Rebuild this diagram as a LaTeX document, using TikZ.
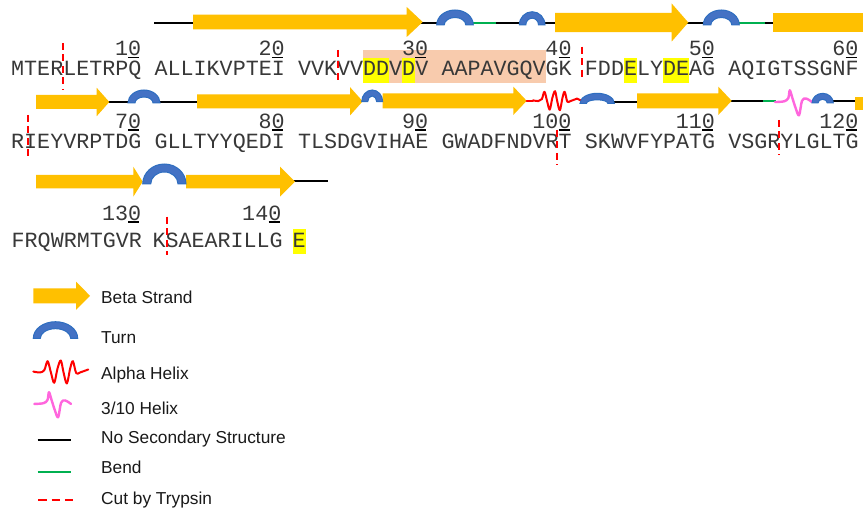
\documentclass[tikz,border=0pt]{standalone}
\usepackage{fontspec}
\setmainfont{Liberation Sans}
\newfontfamily\seqfont{Liberation Mono}

\definecolor{gold}{HTML}{FFC000}
\definecolor{turnblue}{HTML}{4472C4}
\definecolor{turnedge}{HTML}{2E6EC0}
\definecolor{bendgreen}{HTML}{00B050}
\definecolor{helixred}{HTML}{FF0000}
\definecolor{helixpink}{HTML}{FF66DD}
\definecolor{peach}{HTML}{F8CBAD}
\definecolor{hiyellow}{HTML}{FFFF00}
\definecolor{seqgrey}{HTML}{383838}

\tikzset{
  strand/.style={fill=gold, draw=none},
  turnshape/.style={fill=turnblue, draw=turnedge, line width=1pt},
  coil/.style={draw=black, line width=2pt},
  bendline/.style={draw=bendgreen, line width=2pt},
  ahelix/.style={draw=helixred, line width=2pt, line join=round, line cap=round},
  thelix/.style={draw=helixpink, line width=2.4pt, line join=round, line cap=round},
  cutline/.style={draw=red, line width=1.8pt, dash pattern=on 7pt off 4.5pt},
  seq/.style={font=\seqfont\fontsize{21.7}{24}\selectfont, text=seqgrey, inner sep=0pt, anchor=base west},
  resnum/.style={font=\seqfont\fontsize{21.7}{24}\selectfont, text=seqgrey, inner sep=0pt, anchor=base east},
  numbar/.style={draw=black, line width=1.3pt},
  legendtext/.style={font=\fontsize{17.3}{20}\selectfont, text=black!90, inner sep=0pt, anchor=base west},
  alphapic/.pic={\draw[ahelix] plot[smooth, tension=0.55] coordinates {(0,0.48) (0.12,0.52) (0.2,0.42) (0.26,0.03) (0.32,0.52) (0.38,0.97) (0.44,0.35) (0.5,0) (0.55,0.52) (0.61,1) (0.67,0.35) (0.72,0.03) (0.78,0.55) (0.85,0.52) (1,0.39)};},
  threetenpic/.pic={\draw[thelix] plot[smooth, tension=0.55] coordinates {(0,0.47) (0.25,0.44) (0.36,0.31) (0.4,0) (0.47,0.31) (0.56,0.72) (0.65,1) (0.73,0.42) (0.84,0.33) (1,0.47)};},
}

% beta strand arrow: start, head base, tip, centre y, body half height, head half height
\newcommand\strandarrow[6]{%
  \fill[strand] (#1,#4-#5) -- (#2,#4-#5) -- (#2,#4-#6) -- (#3,#4) -- (#2,#4+#6) -- (#2,#4+#5) -- (#1,#4+#5) -- cycle;}
% turn: left, right, top, bottom, band thickness
\newcommand\turnat[5]{%
  \pgfmathsetmacro\tA{(#2-#1)/2}%
  \pgfmathsetmacro\tM{(#1+#2)/2}%
  \pgfmathsetmacro\tH{#4-#3}%
  \pgfmathsetmacro\tIA{\tA-#5}%
  \pgfmathsetmacro\tIH{\tH-#5}%
  \filldraw[turnshape] (#1,#4) .. controls (#1,#4-0.552*\tH) and (\tM-0.552*\tA,#3) .. (\tM,#3)
    .. controls (\tM+0.552*\tA,#3) and (#2,#4-0.552*\tH) .. (#2,#4)
    -- (#2-#5,#4) .. controls (#2-#5,#4-0.552*\tIH) and (\tM+0.552*\tIA,#3+#5) .. (\tM,#3+#5)
    .. controls (\tM-0.552*\tIA,#3+#5) and (#1+#5,#4-0.552*\tIH) .. (#1+#5,#4) -- cycle;}

\begin{document}
\begin{tikzpicture}[x=1pt, y=-1pt]
\useasboundingbox (0,0) rectangle (863,510);
\clip (0,0) rectangle (863,510);
\fill[white] (0,0) rectangle (863,510);

% ---------- secondary structure, line 1 ----------
\draw[coil] (154,23) -- (193,23);
\draw[coil] (420,23) -- (437,23);
\draw[bendline] (472,23.5) -- (496,23.5);
\draw[coil] (496,23.5) -- (521,23.5);
\draw[coil] (544,23.5) -- (556,23.5);
\draw[coil] (686,23) -- (704,23);
\draw[bendline] (738,23) -- (765,23);
\draw[coil] (765,23) -- (774,23);
\strandarrow{193}{406.7}{422.7}{22}{7.3}{15}
\strandarrow{555}{671.7}{688.3}{22.5}{9.7}{19}
\fill[strand] (773,13.3) rectangle (870,32.3);
\turnat{436.7}{473.3}{10}{25}{7.5}
\turnat{519.3}{545}{11.7}{25}{6.5}
\turnat{703.3}{739.3}{10}{25}{7.5}

% ---------- secondary structure, line 2 ----------
\draw[coil] (107,101.7) -- (129,101.7);
\draw[coil] (159,101.7) -- (198,101.7);
\draw[coil] (613,101.7) -- (638,101.7);
\draw[coil] (730,101) -- (763,101);
\draw[bendline] (763,101.5) -- (776,101.5);
\draw[coil] (832,101.5) -- (856,101.5);
\strandarrow{36}{96.7}{109.3}{102}{7}{14.2}
\strandarrow{197}{350}{362.7}{101.3}{7}{14.2}
\strandarrow{382.7}{513.3}{526.7}{100.8}{7.5}{14.2}
\strandarrow{637}{718.3}{731.7}{100.8}{7.5}{14.2}
\fill[strand] (855,96.7) rectangle (870,110);
\draw[ahelix] (526.7,101.5) -- (533,101.5);
\pic[xscale=44, yscale=19] at (533,91.2) {alphapic};
\draw[ahelix] (577,98.6) -- (581,100.5);
\pic[xscale=37, yscale=25] at (775,90.3) {threetenpic};
\turnat{128}{160}{90}{103}{7}
\turnat{361.7}{382.7}{90}{101.7}{6}
\turnat{580}{614.3}{93.3}{103.3}{6.5}
\turnat{812}{833.3}{93.3}{103}{6}

% ---------- secondary structure, line 3 ----------
\draw[coil] (293,181) -- (328,181);
\strandarrow{36}{133.3}{142.7}{181.7}{6.7}{15}
\strandarrow{186}{280}{295}{181.7}{6.7}{15}
\turnat{142.7}{186}{164}{184}{8}

% ---------- shaded regions ----------
\fill[peach] (363.1,50) rectangle (545.6,83);
\fill[hiyellow] (363.1,58.3) rectangle (389.2,82.7);
\fill[hiyellow] (402.2,58.3) rectangle (415.2,82.7);
\fill[hiyellow] (623.9,58.3) rectangle (636.9,82.7);
\fill[hiyellow] (663,58.3) rectangle (689.1,82.7);
\fill[hiyellow] (292.5,229.5) rectangle (305.5,253.8);

% ---------- sequence ----------
\node[seq] (s1a) at (11,76) {MTERLETRPQ};
\node[seq] (s1b) at (154.44,76) {ALLIKVPTEI};
\node[seq] (s1c) at (297.88,76) {VVKVVDDVDV};
\node[seq] (s1d) at (441.32,76) {AAPAVGQVGK};
\node[seq] (s1e) at (584.76,76) {FDDELYDEAG};
\node[seq] (s1f) at (728.2,76) {AQIGTSSGNF};

\node[seq] (s2a) at (11,149) {RIEYVRPTDG};
\node[seq] (s2b) at (154.44,149) {GLLTYYQEDI};
\node[seq] (s2c) at (297.88,149) {TLSDGVIHAE};
\node[seq] (s2d) at (441.32,149) {GWADFNDVRT};
\node[seq] (s2e) at (584.76,149) {SKWVFYPATG};
\node[seq] (s2f) at (728.2,149) {VSGRYLGLTG};

\node[seq] (s3a) at (11.5,247.3) {FRQWRMTGVR};
\node[seq] (s3b) at (152.3,247.3) {KSAEARILLG};
\node[seq] (s3c) at (292.5,247.3) {E};

% residue numbers with their column marks
\foreach \m in {1,...,6} {
  \pgfmathsetmacro\xr{11+(11*\m-1)*13.04}
  \pgfmathtruncatemacro\lab{10*\m}
  \node[resnum] (n\lab) at (\xr,56) {\lab};
  \draw[numbar] (\xr-13,57.6) -- (\xr-2,57.6);
  \pgfmathtruncatemacro\labb{10*\m+60}
  \node[resnum] (n\labb) at (\xr,128.3) {\labb};
  \draw[numbar] (\xr-13,129.9) -- (\xr-2,129.9);
}
\node[resnum] (n130) at (141.4,220.3) {130};
\draw[numbar] (128.4,221.9) -- (139.4,221.9);
\node[resnum] (n140) at (281.5,220.3) {140};
\draw[numbar] (268.5,221.9) -- (279.5,221.9);

% ---------- trypsin cut sites ----------
\draw[cutline] (63,43) -- (63,90);
\draw[cutline] (338,50) -- (338,83);
\draw[cutline] (581.7,46.7) -- (581.7,80);
\draw[cutline] (28.3,115) -- (28.3,158);
\draw[cutline] (556.7,130) -- (556.7,165);
\draw[cutline] (779,120) -- (779,155);
\draw[cutline] (166.7,216.7) -- (166.7,255);

% ---------- legend ----------
\strandarrow{33.3}{76}{90}{295.8}{7.5}{14.2}
\turnat{33.3}{77.7}{321.7}{338.3}{7}
\pic[xscale=55, yscale=23] at (33.3,360.5) {alphapic};
\pic[xscale=36.7, yscale=25] at (34.3,392.2) {threetenpic};
\draw[coil] (37.7,440) -- (71,440);
\draw[bendline] (37.7,471.7) -- (71,471.7);
\draw[draw=red, line width=1.8pt, dash pattern=on 8.3pt off 5pt] (38.3,500) -- (73.3,500);

\node[legendtext] (lbeta) at (101,304) {Beta Strand};
\node[legendtext] (lturn) at (101,343.3) {Turn};
\node[legendtext] (lalpha) at (101,379.3) {Alpha Helix};
\node[legendtext] (lthree) at (101,415) {3/10 Helix};
\node[legendtext] (lcoil) at (101,444) {No Secondary Structure};
\node[legendtext] (lbend) at (101,474) {Bend};
\node[legendtext] (lcut) at (101,505) {Cut by Trypsin};
\end{tikzpicture}
\end{document}
